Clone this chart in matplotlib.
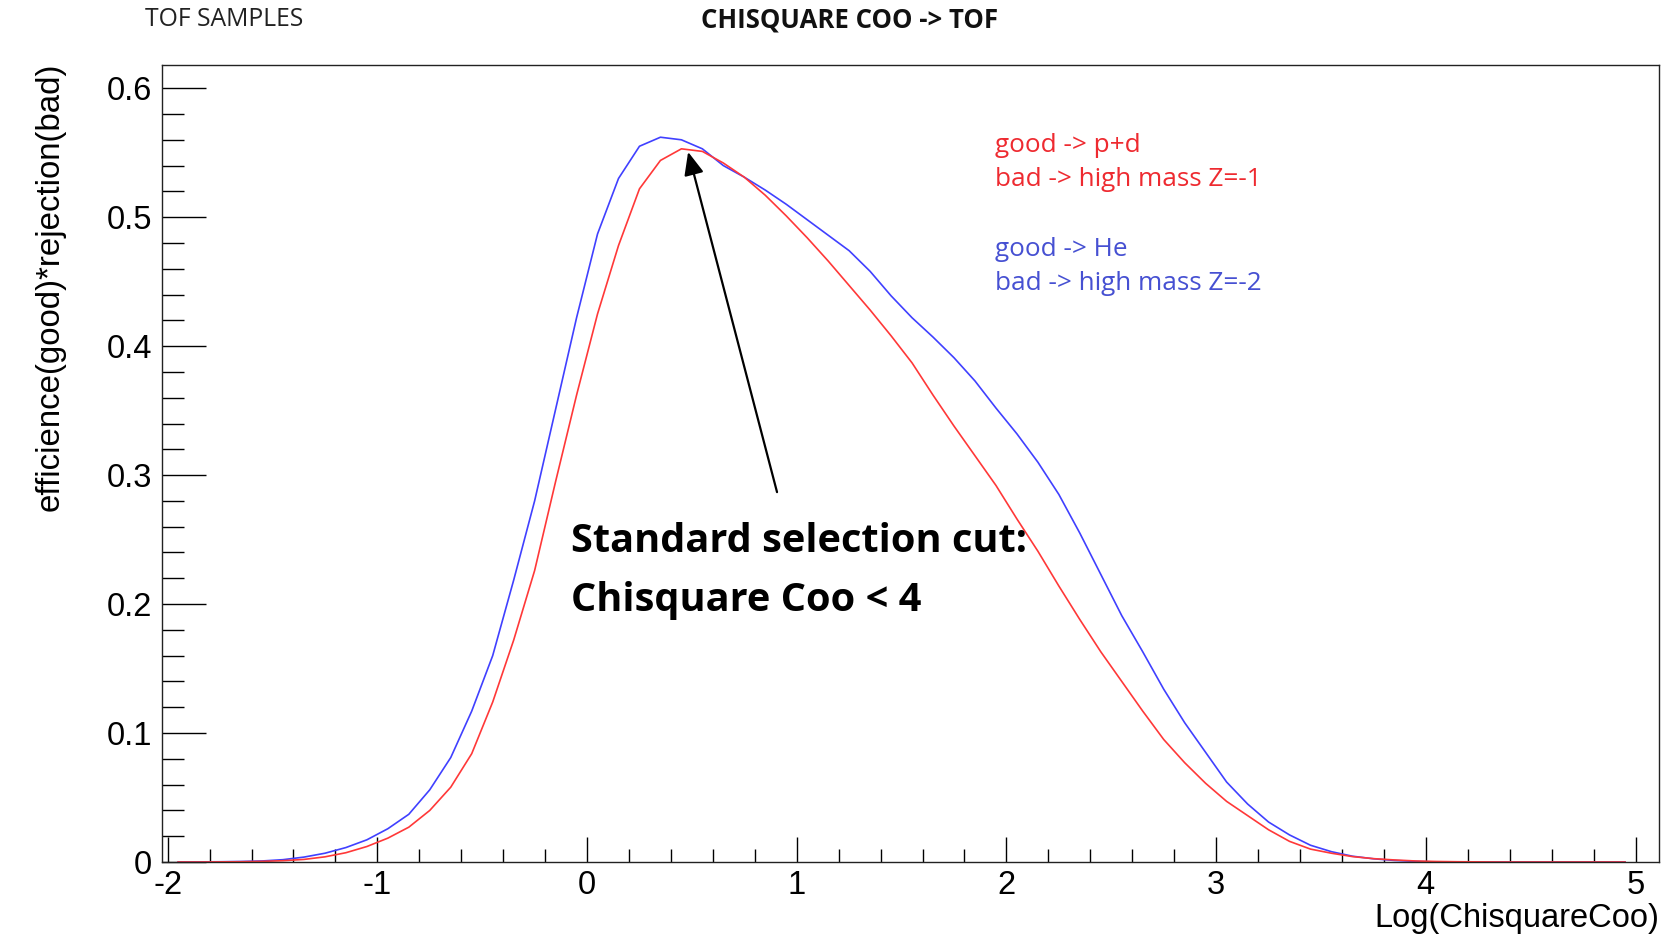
import numpy as np
import matplotlib
matplotlib.use("Agg")
import matplotlib.pyplot as plt
from matplotlib.ticker import MultipleLocator

plt.rcParams['axes.unicode_minus'] = False

# histogram binning (bin centers, width 0.1)
bin_lo, bin_hi, n_bins = -2.0, 5.0, 70
centers = bin_lo + (np.arange(n_bins) + 0.5) * (bin_hi - bin_lo) / n_bins

# good -> He, bad -> high mass Z=-2
eff_he = [0.0, 0.0001, 0.0002, 0.0004, 0.0008, 0.0018, 0.0038, 0.0068, 0.0112, 0.0172,
          0.0258, 0.037, 0.056, 0.081, 0.117, 0.160, 0.2185, 0.280, 0.351, 0.422,
          0.487, 0.530, 0.555, 0.562, 0.560, 0.553, 0.540, 0.531, 0.521, 0.510,
          0.498, 0.486, 0.474, 0.458, 0.439, 0.422, 0.407, 0.391, 0.373, 0.352,
          0.332, 0.310, 0.285, 0.255, 0.223, 0.191, 0.163, 0.134, 0.108, 0.085,
          0.062, 0.045, 0.031, 0.021, 0.013, 0.008, 0.0045, 0.0025, 0.0012, 0.0005,
          0.0, 0.0, 0.0, 0.0, 0.0, 0.0, 0.0, 0.0, 0.0, 0.0]

# good -> p+d, bad -> high mass Z=-1
eff_pd = [0.0, 0.0, 0.0001, 0.0002, 0.0005, 0.0010, 0.0020, 0.0040, 0.0072, 0.0120,
          0.0185, 0.027, 0.040, 0.058, 0.084, 0.124, 0.172, 0.226, 0.295, 0.362,
          0.425, 0.478, 0.522, 0.544, 0.553, 0.551, 0.542, 0.531, 0.517, 0.501,
          0.484, 0.466, 0.447, 0.428, 0.408, 0.387, 0.362, 0.338, 0.315, 0.292,
          0.266, 0.241, 0.214, 0.188, 0.163, 0.140, 0.117, 0.095, 0.077, 0.061,
          0.047, 0.036, 0.025, 0.016, 0.010, 0.0068, 0.0042, 0.0026, 0.0016, 0.0008,
          0.0004, 0.0002, 0.0001, 0.0, 0.0, 0.0, 0.0, 0.0, 0.0, 0.0]

root_font = 'Liberation Sans'
W, H = 1664, 935

fig = plt.figure(figsize=(W / 100, H / 100), dpi=100)
ax = fig.add_axes([162 / W, 1 - 862 / H, (1659 - 162) / W, (862 - 65) / H])

ax.plot(centers, eff_he, color='#4040ff', lw=1.2)
ax.plot(centers, eff_pd, color='#ff3838', lw=1.2)

ax.set_xlim(-2.027, 5.112)
ax.set_ylim(0, 0.618)

ax.xaxis.set_major_locator(MultipleLocator(1))
ax.xaxis.set_minor_locator(MultipleLocator(0.2))
ax.yaxis.set_major_locator(MultipleLocator(0.1))
ax.yaxis.set_minor_locator(MultipleLocator(0.02))
ax.tick_params(axis='x', which='major', direction='in', length=18, width=1, pad=6,
               top=False, labelsize=23.5)
ax.tick_params(axis='x', which='minor', direction='in', length=9.5, width=1, top=False)
ax.tick_params(axis='y', which='major', direction='in', length=32, width=1, pad=7,
               right=False, labelsize=23.5)
ax.tick_params(axis='y', which='minor', direction='in', length=16, width=1, right=False)
ax.set_yticks([0, 0.1, 0.2, 0.3, 0.4, 0.5, 0.6])
ax.set_yticklabels(['0', '0.1', '0.2', '0.3', '0.4', '0.5', '0.6'])
for lab in ax.get_xticklabels() + ax.get_yticklabels():
    lab.set_fontfamily(root_font)
for sp in ax.spines.values():
    sp.set_linewidth(1.0)
    sp.set_color('#222222')

fig.text(50 / W, 1 - 63 / H, 'efficience(good)*rejection(bad)', rotation=90,
         ha='center', va='top', fontsize=23.8, family=root_font)
fig.text(1659 / W, 1 - 919 / H, 'Log(ChisquareCoo)', ha='right', va='center',
         fontsize=23.5, family=root_font)

# header
fig.text(145 / W, 1 - 19 / H, 'TOF SAMPLES', ha='left', va='center',
         fontsize=17.8, family='Open Sans', color='#222222')
fig.text(850 / W, 1 - 20 / H, 'CHISQUARE COO -> TOF', ha='center', va='center',
         fontsize=18.5, family='Open Sans', fontweight='bold', color='#111111')

# legend text
red_txt = '#ee2a30'
blue_txt = '#4650d2'
leg_fs = 18.8
fig.text(995 / W, 1 - 145 / H, 'good -> p+d', ha='left', va='center',
         fontsize=leg_fs, family='Open Sans', color=red_txt)
fig.text(995 / W, 1 - 180 / H, 'bad -> high mass Z=-1', ha='left', va='center',
         fontsize=leg_fs, family='Open Sans', color=red_txt)
fig.text(995 / W, 1 - 249 / H, 'good -> He', ha='left', va='center',
         fontsize=leg_fs, family='Open Sans', color=blue_txt)
fig.text(995 / W, 1 - 284 / H, 'bad -> high mass Z=-2', ha='left', va='center',
         fontsize=leg_fs, family='Open Sans', color=blue_txt)

# annotation
fig.text(571 / W, 1 - 542 / H, 'Standard selection cut:', ha='left', va='center',
         fontsize=28.6, family='Open Sans', fontweight='bold', color='black')
fig.text(571 / W, 1 - 600 / H, 'Chisquare Coo < 4', ha='left', va='center',
         fontsize=28.6, family='Open Sans', fontweight='bold', color='black')
ax.annotate('', xy=(0.482, 0.5506), xytext=(0.906, 0.2868),
            arrowprops=dict(arrowstyle='-|>,head_length=0.7,head_width=0.3',
                            color='black', lw=1.6, mutation_scale=20,
                            shrinkA=0, shrinkB=0))

fig.savefig('out.png', dpi=100)
